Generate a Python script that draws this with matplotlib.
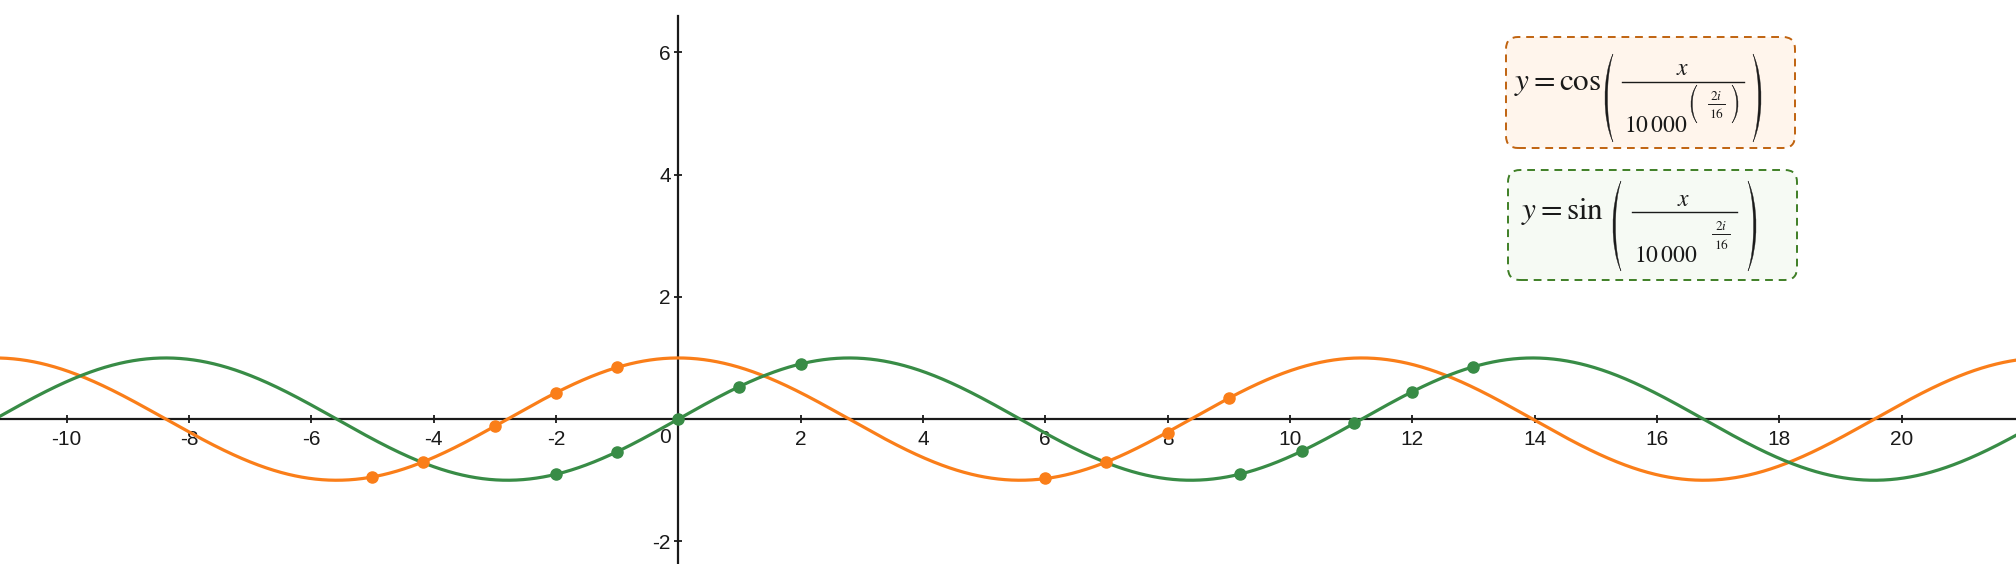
import numpy as np
import matplotlib.pyplot as plt
from matplotlib.patches import FancyBboxPatch, PathPatch
from matplotlib.path import Path

plt.rcParams['font.family'] = ['Liberation Sans', 'DejaVu Sans']
plt.rcParams['mathtext.fontset'] = 'stix'

# funktion: y = cos/sin(x / 10000^(2i/16)), divisor read from the period (~11.17)
exponent = 1 / 16
divisor = 10000 ** exponent

x_min, x_max = -11.09, 21.87
y_min, y_max = -2.37, 6.855
y_axis_top = 6.59

x_ticks = [-10, -8, -6, -4, -2, 2, 4, 6, 8, 10, 12, 14, 16, 18, 20]
y_ticks = [-2, 2, 4, 6]

# sampled points shown on the curves
cos_pts_x = [-5, -4.18, -3, -2, -1, 6, 7, 8, 9]
cos_pts_y = [-0.95, -0.70, -0.12, 0.43, 0.85, -0.97, -0.70, -0.22, 0.34]
sin_pts_x = [-2, -1, 0, 1, 2, 9.18, 10.2, 11.05, 12, 13]
sin_pts_y = [-0.90, -0.53, 0.0, 0.53, 0.90, -0.90, -0.52, -0.07, 0.44, 0.86]

orange = '#fa7e19'
green = '#388c46'
ink = '#1a1a1a'

fig = plt.figure(figsize=(20.16, 5.64), dpi=100)
ax = fig.add_axes([0, 0, 1, 1])
ax.set_xlim(x_min, x_max)
ax.set_ylim(y_min, y_max)

xs = np.linspace(x_min, x_max, 3000)
ax.plot(xs, np.cos(xs / divisor), color=orange, lw=2.3, zorder=3)
ax.plot(xs, np.sin(xs / divisor), color=green, lw=2.3, zorder=3)
ax.plot(cos_pts_x, cos_pts_y, 'o', color=orange, ms=8, zorder=4)
ax.plot(sin_pts_x, sin_pts_y, 'o', color=green, ms=8, zorder=4)

# axes through the origin
for s in ['top', 'right']:
    ax.spines[s].set_visible(False)
ax.spines['bottom'].set_position(('data', 0))
ax.spines['left'].set_position(('data', 0))
ax.spines['left'].set_bounds(y_min, y_axis_top)
for s in ['bottom', 'left']:
    ax.spines[s].set_linewidth(1.6)
    ax.spines[s].set_color(ink)
ax.set_xticks(x_ticks)
ax.set_yticks(y_ticks)
ax.set_xticklabels([str(t) for t in x_ticks])
ax.set_yticklabels([str(t) for t in y_ticks])
ax.tick_params(axis='both', direction='inout', length=6, width=1.3,
               color=ink, labelsize=15, labelcolor=ink)
ax.tick_params(axis='x', pad=4.5)
ax.tick_params(axis='y', pad=2.5)
ax.annotate('0', xy=(0, 0), xytext=(-13, -18), textcoords='offset pixels',
            ha='center', va='center', fontsize=15, color=ink)

# ---- formula boxes (positions in pixels from the top-left) ----
W, H = 2016, 564
def P(x, y):
    return (x / W, 1 - y / H)

def box(x0, y0, x1, y1, edge, face):
    p = FancyBboxPatch(P(x0, y1), (x1 - x0) / W, (y1 - y0) / H,
                       boxstyle='round,pad=0,rounding_size=0.006',
                       transform=fig.transFigure, facecolor=face, edgecolor=edge,
                       lw=1.4, ls=(0, (4, 3)), zorder=5,
                       mutation_aspect=W / H)
    fig.add_artist(p)

def paren(tip, y0, y1, bulge, thick, side):
    # side=-1 -> "(" , side=+1 -> ")"
    h = y1 - y0
    b1 = side * bulge * 4 / 3
    b2 = side * (bulge - thick) * 4 / 3
    verts = [(tip, y0), (tip + b1, y0 + h * 0.25), (tip + b1, y1 - h * 0.25), (tip, y1),
             (tip + b2, y1 - h * 0.25), (tip + b2, y0 + h * 0.25), (tip, y0), (tip, y0)]
    codes = [Path.MOVETO] + [Path.CURVE4] * 6 + [Path.CLOSEPOLY]
    path = Path([P(x, y) for x, y in verts], codes)
    fig.add_artist(PathPatch(path, transform=fig.transFigure, facecolor=ink,
                             edgecolor=ink, lw=0.3, zorder=6))

def txt(x, y, s, size, ha='left'):
    fig.text(*P(x, y), s, ha=ha, va='baseline', fontsize=size, color=ink, zorder=6)

def bar(x0, x1, y, lw=1.0):
    fig.add_artist(plt.Line2D([x0 / W, x1 / W], [1 - y / H, 1 - y / H],
                              transform=fig.transFigure, color=ink, lw=lw, zorder=6))

box(1506, 37, 1795, 148, '#c0630f', '#fff5ec')
box(1508, 170, 1797, 280, '#3f7f26', '#f6faf4')

# cos formula
txt(1514, 90, r'$y=\cos$', 22.5)
paren(1613, 54, 142, 8, 2.4, -1)
txt(1683, 75, r'$x$', 17, 'center')
bar(1622, 1744, 81.7)
txt(1624, 131.5, r'$10\,000$', 17)
paren(1697, 85, 123, 6, 1.3, -1)
txt(1716, 100, r'$2i$', 9.5, 'center')
bar(1708, 1725, 104, 0.7)
txt(1716, 118, r'$16$', 9.5, 'center')
paren(1732, 85, 123, 6, 1.3, 1)
paren(1753, 54, 142, 8, 2.4, 1)

# sin formula
txt(1521, 219, r'$y=\sin$', 22.5)
paren(1621, 181, 271, 8, 2.4, -1)
txt(1684, 206, r'$x$', 17, 'center')
bar(1632, 1737, 211.7)
txt(1634, 261.5, r'$10\,000$', 17)
txt(1721, 230.5, r'$2i$', 9.5, 'center')
bar(1712, 1730, 234, 0.7)
txt(1721, 249, r'$16$', 9.5, 'center')
paren(1748, 181, 271, 8, 2.4, 1)

fig.savefig('out.png', dpi=100)
